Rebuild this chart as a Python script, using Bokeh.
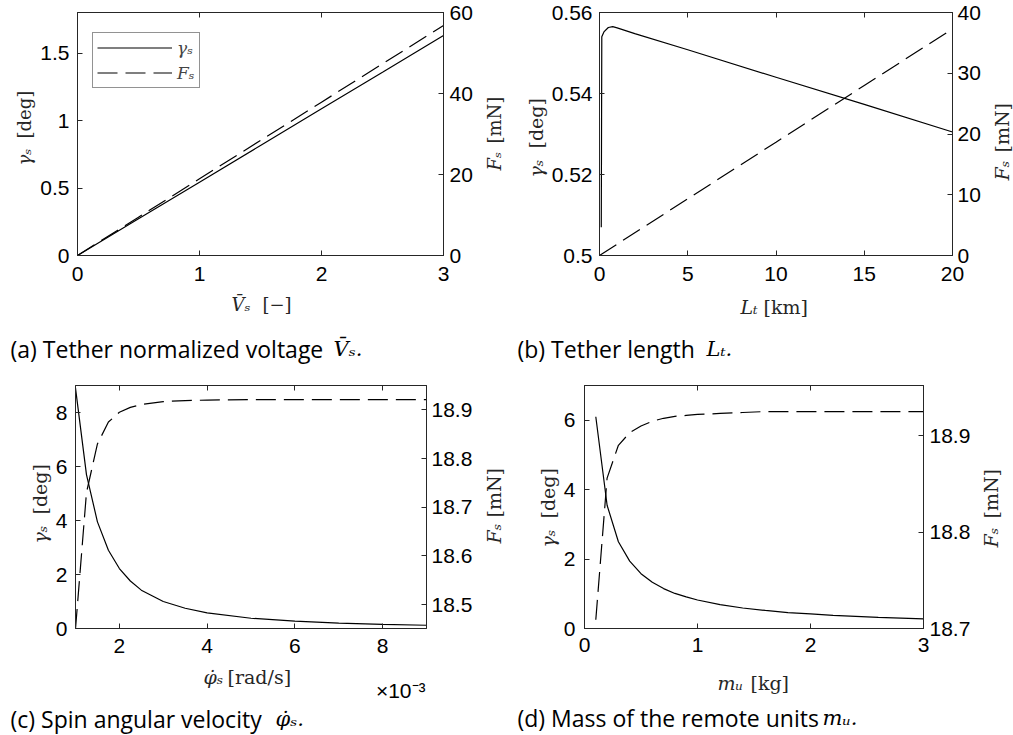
from bokeh.plotting import figure
from bokeh.models import Range1d, LinearAxis, FixedTicker, Legend, LegendItem, Label
from bokeh.layouts import column, row
from bokeh.embed import file_html
from bokeh.resources import INLINE

# ---------------- data ----------------
# (a) tether normalized voltage
a_V = [0.0, 0.5, 1.0, 1.5, 2.0, 2.5, 3.0]
a_gamma = [0.0, 0.272, 0.543, 0.815, 1.087, 1.358, 1.630]
a_F = [0.0, 9.47, 18.93, 28.40, 37.86, 47.33, 56.80]
a_x_ticks, a_x_labels = [0, 1, 2, 3], ["0", "1", "2", "3"]
a_yl_ticks, a_yl_labels = [0, 0.5, 1, 1.5], ["0", "0.5", "1", "1.5"]
a_yr_ticks, a_yr_labels = [0, 20, 40, 60], ["0", "20", "40", "60"]

# (b) tether length
b_L = [0.1, 0.13, 0.25, 0.5, 0.75, 1.0, 2.0, 5.0, 10.0, 15.0, 20.0]
b_gamma = [0.507, 0.554, 0.5552, 0.5563, 0.5565, 0.5562, 0.5548, 0.5508, 0.5440, 0.5373, 0.5305]
b_LF = [0.0, 5.0, 10.0, 15.0, 20.0]
b_F = [0.0, 9.33, 18.65, 27.98, 37.3]
b_x_ticks, b_x_labels = [0, 5, 10, 15, 20], ["0", "5", "10", "15", "20"]
b_yl_ticks, b_yl_labels = [0.5, 0.52, 0.54, 0.56], ["0.5", "0.52", "0.54", "0.56"]
b_yr_ticks, b_yr_labels = [0, 10, 20, 30, 40], ["0", "10", "20", "30", "40"]

# (c) spin angular velocity (x in units of 1e-3 rad/s)
c_phi = [1.0, 1.25, 1.5, 1.75, 2.0, 2.25, 2.5, 3.0, 3.5, 4.0, 5.0, 6.0, 7.0, 8.0, 9.0]
c_gamma = [8.9, 5.7, 3.95, 2.9, 2.22, 1.76, 1.42, 1.0, 0.75, 0.58, 0.38, 0.27, 0.2, 0.15, 0.12]
c_F = [18.45, 18.73, 18.83, 18.875, 18.895, 18.905, 18.911, 18.917, 18.919, 18.920,
       18.921, 18.921, 18.921, 18.921, 18.921]
c_x_ticks, c_x_labels = [2, 4, 6, 8], ["2", "4", "6", "8"]
c_yl_ticks, c_yl_labels = [0, 2, 4, 6, 8], ["0", "2", "4", "6", "8"]
c_yr_ticks, c_yr_labels = [18.5, 18.6, 18.7, 18.8, 18.9], ["18.5", "18.6", "18.7", "18.8", "18.9"]

# (d) mass of the remote units
d_m = [0.1, 0.2, 0.3, 0.4, 0.5, 0.6, 0.7, 0.8, 0.9, 1.0, 1.2, 1.4, 1.6, 1.8, 2.0,
       2.2, 2.4, 2.6, 2.8, 3.0]
d_gamma = [6.10, 3.55, 2.50, 1.94, 1.58, 1.33, 1.15, 1.01, 0.91, 0.82, 0.69, 0.59,
           0.52, 0.46, 0.42, 0.38, 0.35, 0.32, 0.30, 0.28]
d_F = [18.709, 18.856, 18.890, 18.903, 18.910, 18.915, 18.918, 18.920, 18.921, 18.922,
       18.923, 18.924, 18.925, 18.925, 18.925, 18.925, 18.925, 18.925, 18.925, 18.925]
d_x_ticks, d_x_labels = [0, 1, 2, 3], ["0", "1", "2", "3"]
d_yl_ticks, d_yl_labels = [0, 2, 4, 6], ["0", "2", "4", "6"]
d_yr_ticks, d_yr_labels = [18.7, 18.8, 18.9], ["18.7", "18.8", "18.9"]

# ---------------- styling ----------------
AX = "#262626"
TICK_FONT = "Liberation Sans"
SERIF = "DejaVu Serif"
CAP_FONT = "Open Sans"
TICK_SIZE = "21px"
CAP_SIZE = "23px"


def style_axis(ax, standoff):
    ax.axis_line_color = AX
    ax.axis_line_width = 1
    ax.major_tick_line_color = AX
    ax.major_tick_in = 5
    ax.major_tick_out = 0
    ax.minor_tick_line_color = None
    ax.major_label_text_font = TICK_FONT
    ax.major_label_text_font_size = TICK_SIZE
    ax.major_label_text_color = "black"
    ax.major_label_standoff = standoff


def make_panel(spec):
    bl, bt, br, bb = spec["borders"]
    xr, ylr, yrr = spec["xr"], spec["ylr"], spec["yrr"]
    p = figure(width=spec["w"], height=spec["h"], x_range=Range1d(*xr), y_range=Range1d(*ylr),
               output_backend="svg", toolbar_location=None, tools="",
               min_border_left=bl, min_border_top=bt, min_border_right=br, min_border_bottom=bb,
               x_axis_type=None, y_axis_type=None)
    p.extra_y_ranges = {"r": Range1d(*yrr)}
    p.background_fill_color = "white"
    p.border_fill_color = "white"
    p.outline_line_color = AX
    p.outline_line_width = 1

    xt, xtl = spec["xt"]
    ylt, yltl = spec["ylt"]
    yrt, yrtl = spec["yrt"]

    xb = LinearAxis(ticker=FixedTicker(ticks=xt), major_label_overrides=dict(zip(xt, xtl)))
    style_axis(xb, spec["sx"])
    p.add_layout(xb, "below")

    xa = LinearAxis(ticker=FixedTicker(ticks=xt))
    style_axis(xa, 0)
    xa.major_label_text_font_size = "0px"
    xa.major_label_text_color = None
    p.add_layout(xa, "above")

    yl = LinearAxis(ticker=FixedTicker(ticks=ylt), major_label_overrides=dict(zip(ylt, yltl)))
    style_axis(yl, spec["sl"])
    p.add_layout(yl, "left")

    yr = LinearAxis(y_range_name="r", ticker=FixedTicker(ticks=yrt),
                    major_label_overrides=dict(zip(yrt, yrtl)))
    style_axis(yr, spec["sr"])
    p.add_layout(yr, "right")

    r1 = p.line(spec["xg"], spec["g"], line_color="black", line_width=1.2)
    r2 = p.line(spec["xf"], spec["f"], line_color="black", line_width=1.2,
                line_dash="20 8", y_range_name="r")

    if spec.get("legend"):
        lg = Legend(items=[LegendItem(label="γₛ", renderers=[r1]),
                           LegendItem(label="Fₛ", renderers=[r2])],
                    location=(15, 167), orientation="vertical",
                    border_line_color=AX, border_line_width=1,
                    background_fill_color="white", background_fill_alpha=1.0,
                    glyph_width=75, glyph_height=21, label_height=21, label_width=18,
                    label_standoff=5, padding=4, spacing=4, margin=0,
                    label_text_font=SERIF, label_text_font_style="italic",
                    label_text_font_size="17px")
        p.add_layout(lg)
    return p


def strip(x0, x1, y0, y1, bt=0, bb=0):
    """Blank figure whose data coordinates equal page pixels (y grows downward)."""
    s = figure(width=x1 - x0, height=y1 - y0, x_range=Range1d(x0, x1),
               y_range=Range1d(y1 - bb, y0 + bt), output_backend="svg",
               toolbar_location=None, tools="", x_axis_type=None, y_axis_type=None,
               min_border_left=0, min_border_right=0, min_border_top=bt, min_border_bottom=bb)
    s.outline_line_color = None
    s.background_fill_color = "white"
    s.border_fill_color = "white"
    return s


def text(s, x, y, t, font, size, align="center", baseline="middle", angle=0,
         color="black", style="normal"):
    s.add_layout(Label(x=x, y=y, text=t, text_font=font, text_font_size=size,
                       text_font_style=style, text_align=align, text_baseline=baseline,
                       angle=angle, angle_units="deg", text_color=color))


def axis_title(s, x, y, var, unit, var_start, unit_start, size, vertical):
    """Variable in italic, unit upright; positions are the start of each part."""
    if vertical:
        text(s, x, var_start, var, SERIF, size, align="left", angle=90, color=AX, style="italic")
        text(s, x, unit_start, unit, SERIF, size, align="left", angle=90, color=AX)
    else:
        text(s, var_start, y, var, SERIF, size, align="left", color=AX, style="italic")
        text(s, unit_start, y, unit, SERIF, size, align="left", color=AX)


def caption(s, x, y, lead, xvar, var):
    text(s, x, y, lead, CAP_FONT, CAP_SIZE, align="left", baseline="alphabetic")
    text(s, xvar, y, var, SERIF, "21px", align="left", baseline="alphabetic", style="italic")


LA, LB = "18px", "19px"

# ---------------- row 1: panels (a) and (b) ----------------
la = strip(0, 37, 0, 292, 12, 37)
axis_title(la, 24, None, "γₛ", "[deg]", 165, 138, LA, True)
pa = make_panel(dict(w=443, h=292, borders=(40, 12, 37, 37), xr=(0, 3), ylr=(0, 1.8), yrr=(0, 60),
                     xt=(a_x_ticks, a_x_labels), ylt=(a_yl_ticks, a_yl_labels), yrt=(a_yr_ticks, a_yr_labels),
                     xg=a_V, g=a_gamma, xf=a_V, f=a_F, sx=11, sl=8, sr=6, legend=True))
ra = strip(480, 507, 0, 292, 12, 37)
axis_title(ra, 494, None, "Fₛ", "[mN]", 170, 143, LA, True)

lb = strip(507, 548, 0, 292, 12, 37)
axis_title(lb, 535, None, "γₛ", "[deg]", 177, 148, LB, True)
pb = make_panel(dict(w=437, h=292, borders=(49, 12, 33, 37), xr=(0, 20), ylr=(0.5, 0.56), yrr=(0, 40),
                     xt=(b_x_ticks, b_x_labels), ylt=(b_yl_ticks, b_yl_labels), yrt=(b_yr_ticks, b_yr_labels),
                     xg=b_L, g=b_gamma, xf=b_LF, f=b_F, sx=11, sl=7, sr=5))
rb = strip(985, 1013, 0, 292, 12, 37)
axis_title(rb, 1001, None, "Fₛ", "[mN]", 180, 152, LB, True)

# ---------------- row 2: x labels and captions (a), (b) ----------------
sa = strip(0, 507, 292, 367)
axis_title(sa, None, 304, "V̄ₛ", "[−]", 231, 262, LA, False)
caption(sa, 10, 348, "(a) Tether normalized voltage", 333, "V̄ₛ.")
sb = strip(507, 1013, 292, 367)
axis_title(sb, None, 306, "Lₜ", "[km]", 740, 763, LB, False)
caption(sb, 517, 348, "(b) Tether length", 706, "Lₜ.")

# ---------------- row 3: panels (c) and (d) ----------------
lc = strip(0, 52, 367, 663, 18, 35)
axis_title(lc, 39, None, "γₛ", "[deg]", 543, 514, LB, True)
pc = make_panel(dict(w=426, h=296, borders=(21, 18, 52, 35), xr=(1, 9), ylr=(0, 9), yrr=(18.451, 18.950),
                     xt=(c_x_ticks, c_x_labels), ylt=(c_yl_ticks, c_yl_labels), yrt=(c_yr_ticks, c_yr_labels),
                     xg=c_phi, g=c_gamma, xf=c_phi, f=c_F, sx=10, sl=8, sr=5))
rc = strip(478, 507, 367, 663, 18, 35)
axis_title(rc, 493, None, "Fₛ", "[mN]", 543, 517, LB, True)

ld = strip(507, 560, 367, 663, 18, 35)
axis_title(ld, 547, None, "γₛ", "[deg]", 547, 518, LB, True)
pd_ = make_panel(dict(w=415, h=296, borders=(22, 18, 52, 35), xr=(0, 3), ylr=(0, 7), yrr=(18.7, 18.952),
                      xt=(d_x_ticks, d_x_labels), ylt=(d_yl_ticks, d_yl_labels), yrt=(d_yr_ticks, d_yr_labels),
                      xg=d_m, g=d_gamma, xf=d_m, f=d_F, sx=9, sl=9, sr=6))
rd = strip(975, 1013, 367, 663, 18, 35)
axis_title(rd, 990, None, "Fₛ", "[mN]", 547, 518, LB, True)

# ---------------- row 4: x labels and captions (c), (d) ----------------
sc = strip(0, 507, 663, 735)
axis_title(sc, None, 676, "φ̇ₛ", "[rad/s]", 203, 227, LB, False)
text(sc, 425, 690, "×10⁻³", TICK_FONT, TICK_SIZE, align="right", baseline="alphabetic")
caption(sc, 10, 718, "(c) Spin angular velocity", 275, "φ̇ₛ.")
sd = strip(507, 1013, 663, 735)
axis_title(sd, None, 682, "mᵤ", "[kg]", 717, 750, LB, False)
caption(sd, 517, 717, "(d) Mass of the remote units", 822, "mᵤ.")

layout = column(row(la, pa, ra, lb, pb, rb), row(sa, sb), row(lc, pc, rc, ld, pd_, rd), row(sc, sd))
open("out.html", "w").write(file_html(layout, INLINE))
